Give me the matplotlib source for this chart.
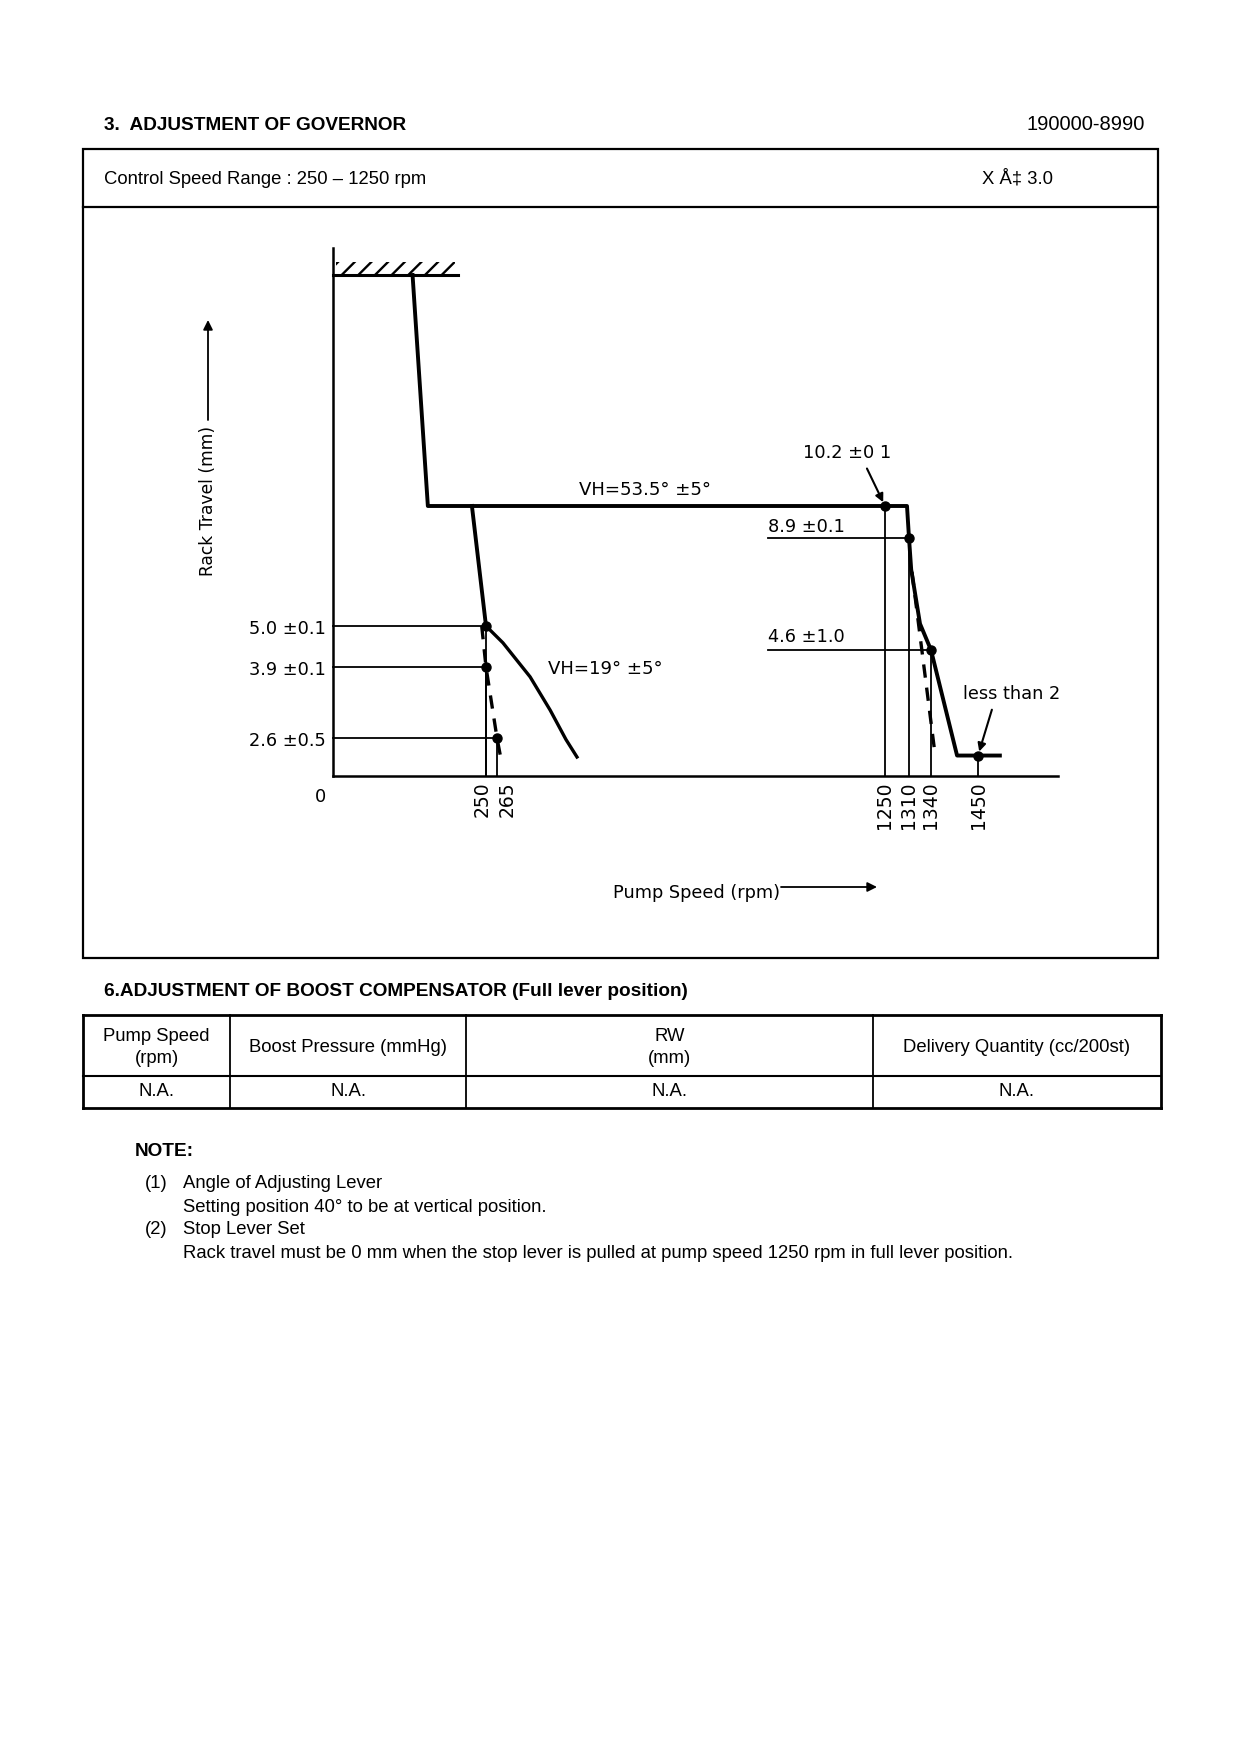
import numpy as np
import matplotlib
matplotlib.use('Agg')
import matplotlib.pyplot as plt
from matplotlib.patches import Rectangle

# governor characteristic (pump speed rpm, rack travel mm)
full_rpm = [130, 155, 1305, 1310, 1313, 1325, 1340, 1401, 1491]
full_rack = [16.0, 10.2, 10.2, 8.9, 7.5, 5.1, 4.6, 1.4, 1.4]
idle_rpm = [227, 250]
idle_rack = [10.2, 5.0]
vh19_rpm = [250, 280, 349, 400, 440, 468]
vh19_rack = [5.0, 4.72, 3.72, 3.11, 2.5, 1.3]
dash_low_rpm = [243, 250, 265, 277]
dash_low_rack = [5.0, 3.9, 2.6, 0.9]
dash_high_rpm = [1314, 1349]
dash_high_rack = [7.4, 1.6]
stopper_rpm = [0, 204]
stopper_rack = 16.0

check_rpm = [250, 250, 265, 1250, 1310, 1340, 1450]
check_rack = [5.0, 3.9, 2.6, 10.2, 8.9, 4.6, 1.4]
check_labels = ['5.0 ±0.1', '3.9 ±0.1', '2.6 ±0.5', '10.2 ±0 1', '8.9 ±0.1', '4.6 ±1.0', 'less than 2']
xtick_values = [0, 250, 265, 1250, 1310, 1340, 1450]
right_guide_start = 953

table_header = ['Pump Speed\n(rpm)', 'Boost Pressure (mmHg)', 'RW\n(mm)', 'Delivery Quantity (cc/200st)']
table_row = ['N.A.', 'N.A.', 'N.A.', 'N.A.']

# schematic (non linear) scales of the drawing: value -> page pixel
SPEED_BP = [0, 250, 265, 1250, 1310, 1340, 1450, 1600]
XPIX_BP = [333, 486, 497, 885, 909, 931, 978, 1058]
RACK_BP = [0, 2.6, 3.9, 4.6, 5.0, 8.9, 10.2, 16.0, 17.0]
YPIX_BP = [776, 738, 667, 650, 626, 538, 506, 275, 248]


def x_fwd(v):
    return np.interp(v, SPEED_BP, XPIX_BP)


def x_inv(p):
    return np.interp(p, XPIX_BP, SPEED_BP)


def y_fwd(v):
    return -np.interp(v, RACK_BP, YPIX_BP)


def y_inv(p):
    return np.interp(-np.asarray(p), YPIX_BP[::-1], RACK_BP[::-1])


plt.rcParams['hatch.linewidth'] = 1.7
W, H = 1240, 1754
fig = plt.figure(figsize=(W / 100, H / 100), dpi=100)
page = fig.add_axes([0, 0, 1, 1])
page.set_xlim(0, W)
page.set_ylim(H, 0)
page.axis('off')

PF = 'Liberation Sans'
CF = 'DejaVu Sans'
FS = 13.3

# ---- header and frame
page.text(104, 125, '3.  ADJUSTMENT OF GOVERNOR', family=PF, fontsize=13.7, fontweight='bold', va='center')
page.text(1145, 125, '190000-8990', family=PF, fontsize=14.5, ha='right', va='center')
page.add_patch(Rectangle((83, 149), 1158 - 83, 958 - 149, fill=False, lw=1.6, ec='black'))
page.plot([83, 1158], [207, 207], color='black', lw=1.6)
page.text(104, 179, 'Control Speed Range : 250 – 1250 rpm', family=PF, fontsize=FS, va='center')
page.text(982, 179, 'X Å‡ 3.0', family=PF, fontsize=FS, va='center')

# ---- governor diagram
x0, x1 = XPIX_BP[0], XPIX_BP[-1]
y0, y1 = YPIX_BP[-1], YPIX_BP[0]
ax = fig.add_axes([x0 / W, 1 - y1 / H, (x1 - x0) / W, (y1 - y0) / H])
ax.set_xscale('function', functions=(x_fwd, x_inv))
ax.set_yscale('function', functions=(y_fwd, y_inv))
ax.set_xlim(SPEED_BP[0], SPEED_BP[-1])
ax.set_ylim(RACK_BP[0], RACK_BP[-1])
ax.patch.set_alpha(0)
for s in ['top', 'right']:
    ax.spines[s].set_visible(False)
for s in ['left', 'bottom']:
    ax.spines[s].set_linewidth(1.8)
ax.set_xticks([])
ax.set_yticks([])

thin = dict(color='black', lw=1.3, clip_on=False)
for r, v in zip(check_rpm, check_rack):
    ax.plot([r, r], [0, v], **thin)
    start = 0 if r < 1000 else right_guide_start
    if r < 1400:
        ax.plot([start, r], [v, v], **thin)

ax.plot(stopper_rpm, [stopper_rack, stopper_rack], color='black', lw=2.2, clip_on=False)
ax.add_patch(Rectangle((stopper_rpm[0] + 5, stopper_rack), stopper_rpm[1] - 10, 0.5,
                       fill=False, lw=0, hatch='//', ec='black', clip_on=False))
ax.plot(full_rpm, full_rack, color='black', lw=2.8, clip_on=False, solid_joinstyle='round')
ax.plot(idle_rpm, idle_rack, color='black', lw=2.8, clip_on=False)
ax.plot(vh19_rpm, vh19_rack, color='black', lw=2.4, clip_on=False, solid_joinstyle='round')
ax.plot(dash_low_rpm, dash_low_rack, color='black', lw=2.4, ls=(0, (4, 3)), clip_on=False)
ax.plot(dash_high_rpm, dash_high_rack, color='black', lw=2.4, ls=(0, (4, 3)), clip_on=False)
ax.plot(check_rpm, check_rack, 'o', color='black', ms=6.5, clip_on=False)

# level labels
CS = 12.8
for r, v, lab in zip(check_rpm[:3], check_rack[:3], check_labels[:3]):
    ax.annotate(lab, xy=(0, v), xytext=(-5, -2), textcoords='offset points',
                ha='right', va='center', family=CF, fontsize=CS)
ax.annotate(check_labels[4], xy=(right_guide_start, check_rack[4]), xytext=(0, 8),
            textcoords='offset points', ha='left', va='center', family=CF, fontsize=CS)
ax.annotate(check_labels[5], xy=(right_guide_start, check_rack[5]), xytext=(0, 9.5),
            textcoords='offset points', ha='left', va='center', family=CF, fontsize=CS)
ax.annotate(check_labels[3], xy=(check_rpm[3], check_rack[3]), xytext=(-27, 38),
            textcoords='offset points', ha='center', va='center', family=CF, fontsize=CS)
ax.annotate('', xy=(check_rpm[3], check_rack[3]), xytext=(-13, 27), textcoords='offset points',
            arrowprops=dict(arrowstyle='-|>', lw=1.5, color='black', mutation_scale=12,
                            shrinkA=0, shrinkB=3))
ax.annotate(check_labels[6], xy=(check_rpm[6], check_rack[6]), xytext=(-11, 44),
            textcoords='offset points', ha='left', va='center', family=CF, fontsize=CS)
ax.annotate('', xy=(check_rpm[6], check_rack[6]), xytext=(10, 33), textcoords='offset points',
            arrowprops=dict(arrowstyle='-|>', lw=1.5, color='black', mutation_scale=12,
                            shrinkA=0, shrinkB=3))

# speed tick labels
tick_dx = {0: -9, 250: -3, 265: 7}
for v in xtick_values:
    if v == 0:
        ax.annotate('0', xy=(v, 0), xytext=(tick_dx[v], -15), textcoords='offset points',
                    ha='center', va='center', family=CF, fontsize=CS)
    else:
        ax.annotate(str(v), xy=(v, 0), xytext=(tick_dx.get(v, 0), -4), textcoords='offset points',
                    ha='center', va='top', rotation=90, family=CF, fontsize=13.5)

page.text(645, 490, 'VH=53.5° ±5°', family=CF, fontsize=13.1, ha='center', va='center')
page.text(605, 669, 'VH=19° ±5°', family=CF, fontsize=13.1, ha='center', va='center')

page.text(208, 501, 'Rack Travel (mm)', family=CF, fontsize=12.3, rotation=90, ha='center', va='center')
page.annotate('', xy=(208, 320), xytext=(208, 420),
              arrowprops=dict(arrowstyle='-|>', lw=1.3, color='black', mutation_scale=14,
                              shrinkA=0, shrinkB=0))
page.text(613, 893, 'Pump Speed (rpm)', family=CF, fontsize=12.8, ha='left', va='center')
page.annotate('', xy=(877, 887), xytext=(781, 887),
              arrowprops=dict(arrowstyle='-|>', lw=1.3, color='black', mutation_scale=14,
                              shrinkA=0, shrinkB=0))

# ---- boost compensator table
page.text(104, 992, '6.ADJUSTMENT OF BOOST COMPENSATOR (Full lever position)', family=PF,
          fontsize=13.7, fontweight='bold', va='center')
col_edges = [83, 230, 466, 873, 1161]
t_top, t_mid, t_bot = 1015, 1076, 1108
page.plot([83, 1161], [t_top, t_top], color='black', lw=2.0)
page.plot([83, 1161], [t_bot, t_bot], color='black', lw=2.0)
page.plot([83, 1161], [t_mid, t_mid], color='black', lw=1.5)
for i, xe in enumerate(col_edges):
    page.plot([xe, xe], [t_top, t_bot], color='black', lw=2.0 if i in (0, 4) else 1.3)
for i, (hd, cell) in enumerate(zip(table_header, table_row)):
    cx = (col_edges[i] + col_edges[i + 1]) / 2
    page.text(cx, (t_top + t_mid) / 2 + 2, hd, family=PF, fontsize=FS, ha='center', va='center',
              linespacing=1.4)
    page.text(cx, (t_mid + t_bot) / 2, cell, family=PF, fontsize=FS, ha='center', va='center')

# ---- notes
page.text(135, 1152, 'NOTE:', family=PF, fontsize=13.7, fontweight='bold', va='center')
notes = [('(1)', 'Angle of Adjusting Lever', 1184),
         ('', 'Setting position 40° to be at vertical position.', 1208),
         ('(2)', 'Stop Lever Set', 1230),
         ('', 'Rack travel must be 0 mm when the stop lever is pulled at pump speed 1250 rpm in full lever position.', 1253)]
for num, txt, yy in notes:
    if num:
        page.text(145, yy, num, family=PF, fontsize=FS, va='center')
    page.text(183, yy, txt, family=PF, fontsize=FS, va='center')

fig.savefig('out.png', dpi=100)
